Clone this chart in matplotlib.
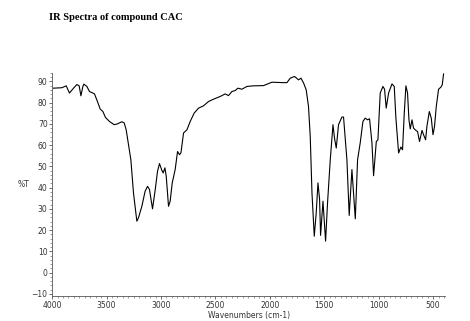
import matplotlib
matplotlib.use("Agg")
import matplotlib.pyplot as plt
from matplotlib.ticker import MultipleLocator

wavenumber = [3988, 3911, 3871, 3841, 3804, 3773, 3752, 3736, 3718, 3709, 3681, 3657, 3626, 3611,
              3584, 3559, 3534, 3510, 3473, 3430, 3400, 3360, 3338, 3320, 3299, 3277, 3253, 3222,
              3207, 3176, 3146, 3124, 3106, 3078, 3053, 3032, 3014, 2992, 2980, 2964, 2952, 2931,
              2916, 2897, 2870, 2848, 2830, 2817, 2793, 2762, 2732, 2695, 2655, 2609, 2564, 2518,
              2456, 2410, 2380, 2349, 2318, 2293, 2257, 2211, 2150, 2058, 1981, 1874, 1843, 1813,
              1773, 1736, 1714, 1690, 1666, 1645, 1629, 1613, 1592, 1574, 1558, 1543, 1534, 1512,
              1488, 1470, 1445, 1420, 1406, 1390, 1369, 1338, 1323, 1292, 1271, 1246, 1215, 1194,
              1170, 1145, 1124, 1102, 1084, 1062, 1047, 1022, 1007, 986, 961, 946, 931, 909, 878,
              857, 842, 817, 796, 781, 765, 750, 735, 722, 710, 694, 680, 658, 643, 625, 602, 588,
              569, 557, 535, 517, 501, 487, 471, 450, 428, 416, 404]
transmittance = [86.8, 87.0, 87.9, 84.5, 86.8, 88.5, 87.9, 83.2, 87.6, 88.7, 87.6, 85.2, 84.5, 84.1,
                 80.5, 77.0, 75.8, 73.0, 71.1, 69.6, 70.0, 71.0, 70.4, 67.2, 60.2, 53.1, 37.5, 24.2,
                 25.8, 31.2, 38.3, 40.6, 39.1, 30.0, 39.1, 47.7, 51.3, 48.1, 46.9, 49.3, 45.3, 31.2,
                 33.6, 42.2, 48.5, 57.0, 55.5, 56.3, 65.7, 67.2, 71.1, 75.1, 77.4, 78.5, 80.5, 81.6,
                 82.9, 84.1, 83.3, 85.2, 85.7, 86.8, 86.3, 87.6, 87.9, 88.0, 89.6, 89.4, 89.4, 91.5,
                 92.3, 90.7, 91.5, 89.2, 86.0, 78.2, 64.1, 37.5, 17.1, 28.1, 42.2, 34.4, 17.5, 33.6,
                 14.8, 32.8, 53.1, 69.6, 63.3, 58.6, 69.6, 73.2, 73.2, 53.1, 26.9, 48.5, 25.3, 53.1,
                 61.0, 71.1, 72.7, 71.9, 72.4, 61.0, 45.6, 61.7, 62.5, 84.5, 87.6, 86.3, 77.4, 84.5,
                 88.8, 87.6, 72.7, 56.3, 59.1, 57.8, 75.1, 87.9, 84.5, 71.9, 67.6, 71.9, 68.0, 66.9,
                 66.4, 61.7, 66.9, 64.9, 62.5, 68.8, 75.8, 72.7, 64.9, 68.8, 78.2, 86.3, 87.3, 88.4,
                 93.5]

x_ticks = [4000, 3500, 3000, 2500, 2000, 1500, 1000, 500]
y_ticks = [-10, 0, 10, 20, 30, 40, 50, 60, 70, 80, 90]

fig = plt.figure(figsize=(4.7, 3.21), dpi=100)
ax = fig.add_axes([0.111, 0.078, 0.836, 0.695])
ax.plot(wavenumber, transmittance, color="black", linewidth=0.8)
ax.set_xlim(4000, 390)
ax.set_ylim(-11, 94)
ax.set_xticks(x_ticks)
ax.set_yticks(y_ticks)
ax.xaxis.set_minor_locator(MultipleLocator(50))
ax.yaxis.set_minor_locator(MultipleLocator(2))
for s in ["top", "right"]:
    ax.spines[s].set_visible(False)
for s in ["left", "bottom"]:
    ax.spines[s].set_linewidth(0.6)
    ax.spines[s].set_color("#555555")
ax.tick_params(which="major", length=2.5, width=0.6, color="#555555", labelsize=5.5,
               labelcolor="#333333", pad=0.8)
ax.tick_params(which="minor", length=1.3, width=0.5, color="#777777")
ax.set_xlabel("Wavenumbers (cm-1)", fontsize=5.5, color="#333333", labelpad=1)
ax.set_ylabel("%T", fontsize=5.5, color="#333333", rotation=0, labelpad=6, va="center")
fig.text(0.105, 0.945, "IR Spectra of compound CAC", fontsize=7.5, fontweight="bold",
         family="Liberation Serif", ha="left", va="center")
fig.savefig("out.png", dpi=100)
